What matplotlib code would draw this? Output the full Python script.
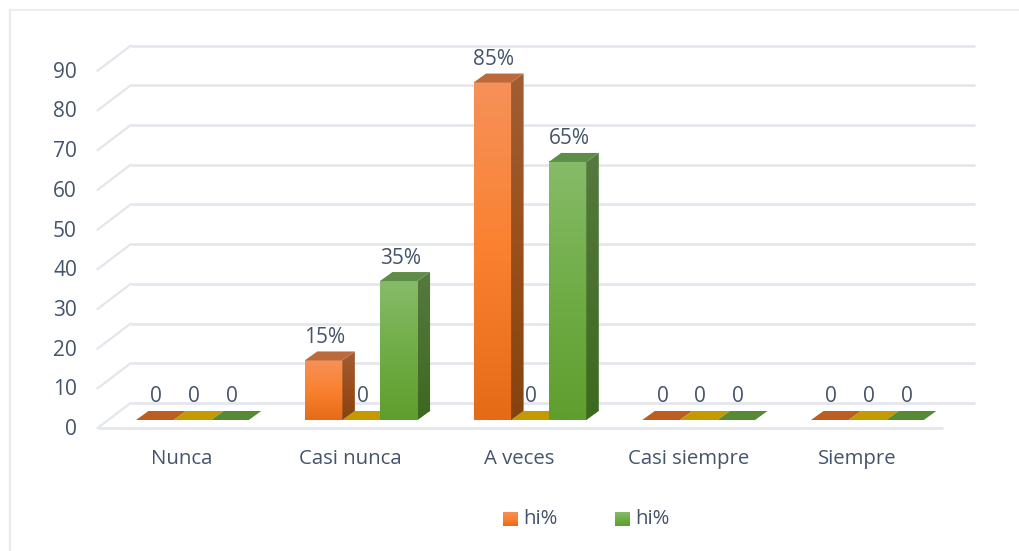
import matplotlib
matplotlib.use('Agg')
import matplotlib.pyplot as plt
import numpy as np
from matplotlib.patches import Polygon

categorias = ['Nunca', 'Casi nunca', 'A veces', 'Casi siempre', 'Siempre']
serie_naranja = [0, 15, 85, 0, 0]
serie_amarilla = [0, 0, 0, 0, 0]
serie_verde = [0, 35, 65, 0, 0]
etiquetas_naranja = ['0', '15%', '85%', '0', '0']
etiquetas_amarilla = ['0', '0', '0', '0', '0']
etiquetas_verde = ['0', '35%', '65%', '0', '0']
ticks_y = list(range(0, 100, 10))

TEXTO = '#44546A'
REJILLA = '#E3E6EC'
plt.rcParams['font.family'] = ['Open Sans', 'DejaVu Sans']

W, H = 1019, 551
fig = plt.figure(figsize=(W / 100, H / 100), dpi=100)
ax = fig.add_axes([0, 0, 1, 1])
ax.axis('off')

# escalas: una categoria = 168.75 px, una unidad de valor = 3.97 px
PX_X = 168.75
PX_Y = 3.97
ax.set_xlim(-182 / PX_X, (W - 182) / PX_X)
ax.set_ylim(-(H - 428) / PX_Y, 428 / PX_Y)

# profundidad de la pared y de las barras, en unidades de datos
pared_dx, pared_dy = 33 / PX_X, 25 / PX_Y
barra_dx, barra_dy = 12.5 / PX_X, 9 / PX_Y
base_y = 8 / PX_Y
ancho = 37.6 / PX_X
x_izq = -0.5
x_der = (943 - 182) / PX_X


def gradiente(x0, x1, y0, y1, c_arriba, c_medio, c_abajo, clip=None):
    colores = np.array([matplotlib.colors.to_rgb(c) for c in (c_arriba, c_medio, c_abajo)])
    t = np.linspace(0, 1, 64)
    img = np.stack([np.interp(t, [0, 0.5, 1], colores[:, i]) for i in range(3)], axis=1)[:, None, :]
    im = ax.imshow(img, extent=(x0, x1, y0, y1), aspect='auto', origin='upper', zorder=3,
                   interpolation='bilinear')
    if clip is not None:
        im.set_clip_path(clip)
    return im


def barra(x, valor, frente, lado, tapa):
    xd = x + ancho
    y0 = base_y
    y1 = base_y + valor
    gradiente(x, xd, y0, y1, *frente)
    lado_p = Polygon([(xd, y0), (xd + barra_dx, y0 + barra_dy), (xd + barra_dx, y1 + barra_dy), (xd, y1)],
                     closed=True, facecolor='none', edgecolor='none', transform=ax.transData)
    ax.add_patch(lado_p)
    gradiente(xd, xd + barra_dx, y0, y1 + barra_dy, *lado, clip=lado_p)
    ax.add_patch(Polygon([(x, y1), (xd, y1), (xd + barra_dx, y1 + barra_dy), (x + barra_dx, y1 + barra_dy)],
                         closed=True, facecolor=tapa, edgecolor='none', zorder=4))


# marco del grafico: solo arriba y a la izquierda
x_marco = (10.5 - 182) / PX_X
y_marco = (428 - 10.5) / PX_Y
ax.plot([x_marco, (W - 182) / PX_X], [y_marco, y_marco], color='#E4E9EC', lw=1.1, zorder=1)
ax.plot([x_marco, x_marco], [y_marco, -(H - 428) / PX_Y], color='#E6EBF4', lw=1.6, zorder=1)

# rejilla en pared y lateral
for v in ticks_y:
    ax.plot([x_izq + pared_dx, (975 - 182) / PX_X], [v + pared_dy, v + pared_dy], color=REJILLA, lw=1.9, zorder=1,
            solid_capstyle='butt')
    ax.plot([x_izq, x_izq + pared_dx], [v, v + pared_dy], color=REJILLA, lw=1.6, zorder=1)
    ax.text((77 - 182) / PX_X, v - 0.4, str(v), ha='right', va='center', fontsize=15, color=TEXTO)
ax.plot([x_izq, x_der], [0, 0], color=REJILLA, lw=1.9, zorder=1, solid_capstyle='butt')

estilos = [
    (serie_naranja, etiquetas_naranja, ('#F69159', '#FA8130', '#E56B17'), ('#A05E33', '#9A4F1C', '#85430F'), '#BC6A3D', '#BD5E20'),
    (serie_amarilla, etiquetas_amarilla, ('#C49A00', '#C49A00', '#C49A00'), ('#C49A00', '#C49A00', '#C49A00'), '#C49A00', '#C49A00'),
    (serie_verde, etiquetas_verde, ('#86BB68', '#70AD47', '#5F9E2E'), ('#55793F', '#4A7130', '#3D691E'), '#5E8D47', '#548B33'),
]

for j, (valores, etiquetas, frente, lado, tapa, plano) in enumerate(estilos):
    for i, valor in enumerate(valores):
        x = i + (136 - 182) / PX_X + j * ancho
        y1 = base_y + valor
        if valor > 0:
            barra(x, valor, frente, lado, tapa)
        else:
            ax.add_patch(Polygon([(x, y1), (x + ancho, y1), (x + ancho + barra_dx, y1 + barra_dy),
                                  (x + barra_dx, y1 + barra_dy)], closed=True, facecolor=plano,
                                 edgecolor='none', zorder=2))
        ax.text(x + ancho / 2 + 1.5 / PX_X, y1 + barra_dy + 8.5 / PX_Y, etiquetas[i], ha='center', va='baseline',
                fontsize=15, color=TEXTO, zorder=5)

for i, c in enumerate(categorias):
    ax.text(i, -31 / PX_Y, c, ha='center', va='center', fontsize=14.7, color=TEXTO)

# leyenda
ley_y = -(519 - 428) / PX_Y
for x_px, frente, nombre in ((503, estilos[0][2], 'hi%'), (615, estilos[2][2], 'hi%')):
    x0 = (x_px - 182) / PX_X
    gradiente(x0, x0 + 14.5 / PX_X, ley_y - 7 / PX_Y, ley_y + 7 / PX_Y, *frente)
    ax.text(x0 + 20.5 / PX_X, ley_y, nombre, ha='left', va='center', fontsize=14.7, color=TEXTO)

ax.set_xlim(-182 / PX_X, (W - 182) / PX_X)
ax.set_ylim(-(H - 428) / PX_Y, 428 / PX_Y)
fig.savefig('out.png', dpi=100, facecolor='white')
